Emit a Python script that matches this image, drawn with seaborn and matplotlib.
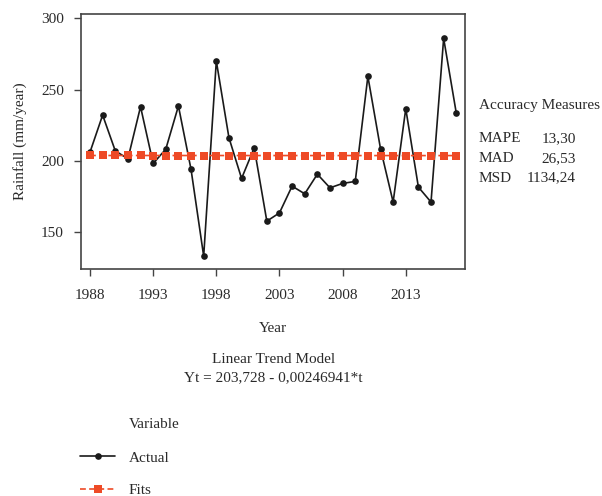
import matplotlib
matplotlib.use("Agg")
import matplotlib.pyplot as plt
import seaborn as sns

years = list(range(1988, 2018))
actual = [206.1, 232.1, 207.0, 201.4, 238.0, 198.1, 208.2, 238.5, 193.9, 133.0,
          270.1, 216.2, 187.6, 209.1, 157.6, 163.4, 182.2, 176.8, 190.6, 181.0,
          184.1, 185.5, 259.3, 208.5, 171.0, 236.6, 181.5, 171.0, 286.0, 233.5]
fits = [203.73, 203.72, 203.72, 203.72, 203.72, 203.71, 203.71, 203.71, 203.71, 203.70,
        203.70, 203.70, 203.70, 203.69, 203.69, 203.69, 203.69, 203.68, 203.68, 203.68,
        203.68, 203.67, 203.67, 203.67, 203.67, 203.66, 203.66, 203.66, 203.66, 203.65]
x_ticks = [1988, 1993, 1998, 2003, 2008, 2013]
y_ticks = [150, 200, 250, 300]
measure_names = ["MAPE", "MAD", "MSD"]
measure_values = ["13,30", "26,53", "1134,24"]

TXT = "#2a2a2a"
FS = 11

sns.set_theme(style="ticks")
plt.rcParams["font.family"] = ["Liberation Serif", "DejaVu Serif"]
plt.rcParams["axes.edgecolor"] = "#444444"
plt.rcParams["xtick.color"] = "#444444"
plt.rcParams["ytick.color"] = "#444444"
plt.rcParams["xtick.labelcolor"] = TXT
plt.rcParams["ytick.labelcolor"] = TXT

fig = plt.figure(figsize=(6.02, 4.96), dpi=100)
ax = fig.add_axes([0.134, 0.458, 0.638, 0.514])

sns.lineplot(x=years, y=actual, ax=ax, color="#1a1a1a", linewidth=1.2,
             marker="o", markersize=4.8, markeredgewidth=0, label="Actual")
sns.lineplot(x=years, y=fits, ax=ax, color="#ee4a26", linewidth=1.2,
             linestyle=(0, (3.5, 2)), marker="s", markersize=5.2,
             markeredgewidth=0, label="Fits")

ax.set_xlim(1987.26, 2017.67)
ax.set_ylim(124.1, 303.2)
ax.set_xticks(x_ticks)
ax.set_yticks(y_ticks)
ax.tick_params(axis="both", labelsize=FS, length=5, width=1)
ax.tick_params(axis="x", pad=9.5)
ax.tick_params(axis="y", pad=7)
for s in ax.spines.values():
    s.set_linewidth(1.2)
ax.set_xlabel("Year", fontsize=FS, labelpad=14.5, color=TXT)
ax.set_ylabel("Rainfall (mm/year)", fontsize=FS, labelpad=10.5, color=TXT)

handles, labels = ax.get_legend_handles_labels()
ax.get_legend().remove()
handles[1].set_markersize(6.3)
fig.legend(handles, labels, loc="upper left",
           bbox_to_anchor=(0.133, 0.091), bbox_transform=fig.transFigure,
           frameon=False, fontsize=FS, borderpad=0, borderaxespad=0,
           handlelength=2.3, handletextpad=0.9, labelspacing=1.25,
           labelcolor=TXT)
fig.text(0.214, 0.145, "Variable", fontsize=FS, color=TXT, va="center")

fig.text(0.454, 0.276, "Linear Trend Model", ha="center", va="center", fontsize=FS, color=TXT)
fig.text(0.454, 0.238, "Yt = 203,728 - 0,00246941*t", ha="center", va="center", fontsize=FS, color=TXT)

fig.text(0.795, 0.788, "Accuracy Measures", fontsize=FS, color=TXT, va="center")
for i, (n, v) in enumerate(zip(measure_names, measure_values)):
    y = 0.721 - i * 0.04
    fig.text(0.795, y, n, fontsize=FS, color=TXT, va="center")
    fig.text(0.957, y, v, fontsize=FS, ha="right", color=TXT, va="center")

fig.savefig("out.png", dpi=100)
